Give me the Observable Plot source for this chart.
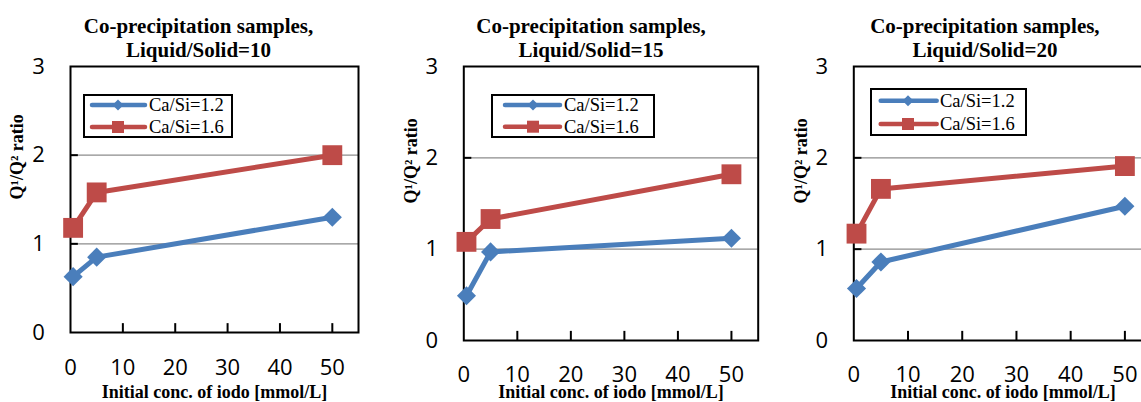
<!DOCTYPE html>
<html><head><meta charset="utf-8">
<script src="https://cdn.jsdelivr.net/npm/d3@7"></script>
<script src="https://cdn.jsdelivr.net/npm/@observablehq/plot@0.6"></script>
<style>
html,body{margin:0;padding:0;background:#fff;overflow:hidden}
#chart{position:relative;width:1141px;height:402px;overflow:hidden;background:#fff}
.panel{position:absolute;top:0}
.legend{position:absolute;background:#fff;border:2px solid #000;box-sizing:border-box}
</style></head><body><div id="chart"></div>
<script>
// ---- data ----
const concentrations = [0.5, 5, 50];           // Initial conc. of iodo [mmol/L]
const seriesNames = ["Ca/Si=1.2", "Ca/Si=1.6"];
const panelTitles = ["Co-precipitation samples,\nLiquid/Solid=10",
                     "Co-precipitation samples,\nLiquid/Solid=15",
                     "Co-precipitation samples,\nLiquid/Solid=20"];
const ls10_ca12 = [0.63, 0.85, 1.30];
const ls10_ca16 = [1.18, 1.58, 2.00];
const ls15_ca12 = [0.49, 0.97, 1.12];
const ls15_ca16 = [1.08, 1.33, 1.82];
const ls20_ca12 = [0.57, 0.86, 1.47];
const ls20_ca16 = [1.17, 1.66, 1.91];
const xTickLabels = [0, 10, 20, 30, 40, 50];
const xInnerTicks = [10, 20, 30, 40, 50];
const yTickLabels = [0, 1, 2, 3];
const yGrid = [1, 2];
const xTitle = "Initial conc. of iodo [mmol/L]";
const yTitle = "Q\u00b9/Q\u00b2 ratio";

const panelSeries = [[ls10_ca12, ls10_ca16], [ls15_ca12, ls15_ca16], [ls20_ca12, ls20_ca16]];

// ---- styles / layout ----
const colors = ["#4A7EBB", "#BE4B48"];
const SERIF = "Liberation Serif";
const SANS = "Open Sans";
const layouts = [
  {left: 0,   width: 380, ml: 70,   mr: 22,  mt: 66, mb: 70, titleDx: -16, tickDy: 35,
   lg: {x: 83, y: 94, w: 150, h: 44, l1: 9, l2: 62, m: 35, t: 66, r1: 11, r2: 33}},
  {left: 380, width: 380, ml: 83.3, mr: 2.3, mt: 66, mb: 62, titleDx: -20, tickDy: 34,
   lg: {x: 490.7, y: 94, w: 164, h: 44, l1: 14, l2: 69, m: 42, t: 73, r1: 11, r2: 32.7}},
  {left: 760, width: 400, ml: 93.3, mr: 8.5, mt: 66, mb: 62, titleDx: -18, tickDy: 34,
   lg: {x: 870, y: 88, w: 157, h: 48, l1: 10.7, l2: 66.7, m: 38, t: 70, r1: 12.7, r2: 36}}
];

const chart = document.getElementById("chart");

panelSeries.forEach((series, p) => {
  const L = layouts[p];
  const rows = series.map((vals, s) => vals.map((v, i) => ({x: concentrations[i], y: v, series: seriesNames[s]})));
  const plot = Plot.plot({
    width: L.width, height: 402,
    marginLeft: L.ml, marginRight: L.mr, marginTop: L.mt, marginBottom: L.mb,
    x: {domain: [0, 55], axis: null},
    y: {domain: [0, 3], axis: null},
    style: {background: "transparent", overflow: "visible"},
    marks: [
      Plot.ruleY(yGrid, {y: d => d, stroke: "#8c8c8c", strokeWidth: 1.4}),
      Plot.ruleY(yGrid, {y: d => d, x1: 0, x2: 1.5, stroke: "#000", strokeWidth: 2}),
      Plot.frame({stroke: "#000", strokeWidth: 2}),
      Plot.ruleX(xInnerTicks, {x: d => d, y1: 0, y2: 0.1, stroke: "#000", strokeWidth: 2}),
      Plot.text(xTickLabels, {x: d => d, text: d => String(d), frameAnchor: "bottom", dy: L.tickDy,
        lineAnchor: "middle", fontSize: 22, fill: "#000"}),
      Plot.text(yTickLabels, {y: d => d, text: d => String(d), frameAnchor: "left", dx: -32,
        textAnchor: "middle", fontSize: 22, fill: "#000"}),
      Plot.line(rows[0], {x: "x", y: "y", stroke: colors[0], strokeWidth: 5}),
      Plot.line(rows[1], {x: "x", y: "y", stroke: colors[1], strokeWidth: 5}),
      Plot.dot(rows[0], {x: "x", y: "y", symbol: "diamond2", r: 8.6, fill: colors[0], stroke: "none"}),
      Plot.dot(rows[1], {x: "x", y: "y", symbol: "square", r: 11.2, fill: colors[1], stroke: "none"}),
      Plot.text([panelTitles[p]], {frameAnchor: "top", dy: -29, dx: L.titleDx, lineAnchor: "middle",
        lineHeight: 1.14, fontSize: 21, fontWeight: "bold", fill: "#000"}),
      Plot.text([xTitle], {frameAnchor: "bottom", dy: 392 - (402 - L.mb), lineAnchor: "middle",
        fontSize: 18, fontWeight: "bold", fill: "#000"}),
      Plot.text([yTitle], {frameAnchor: "left", dx: -53, rotate: -90, lineAnchor: "middle",
        fontSize: 18, fontWeight: "bold", fill: "#000"})
    ]
  });
  plot.classList.add("panel");
  plot.style.left = L.left + "px";
  // fonts: numbers in sans (Calibri-like), words in serif (Times-like)
  d3.select(plot).selectAll("text").each(function () {
    const isNum = /^\d+$/.test(this.textContent.trim());
    this.style.fontFamily = isNum ? SANS : SERIF;
  });
  chart.appendChild(plot);

  // legend
  const g = L.lg;
  const div = document.createElement("div");
  div.className = "legend";
  Object.assign(div.style, {left: g.x + "px", top: g.y + "px", width: g.w + "px", height: g.h + "px"});
  chart.appendChild(div);
  const svg = d3.select(div).append("svg").attr("width", g.w).attr("height", g.h)
    .style("position", "absolute").style("left", "-2px").style("top", "-2px").style("overflow", "visible");
  seriesNames.forEach((name, s) => {
    const cy = s === 0 ? g.r1 : g.r2;
    svg.append("line").attr("x1", g.l1).attr("x2", g.l2).attr("y1", cy).attr("y2", cy)
      .attr("stroke", colors[s]).attr("stroke-width", 4.5).attr("stroke-linecap", "round");
    if (s === 0) {
      svg.append("path").attr("d", `M${g.m},${cy - 5.5}L${g.m + 5.5},${cy}L${g.m},${cy + 5.5}L${g.m - 5.5},${cy}Z`).attr("fill", colors[s]);
    } else {
      svg.append("rect").attr("x", g.m - 6).attr("y", cy - 6).attr("width", 12).attr("height", 12).attr("fill", colors[s]);
    }
    svg.append("text").attr("x", g.t).attr("y", cy).attr("dy", "0.35em")
      .style("font-family", SERIF).style("font-size", "18.5px").text(name);
  });
});
</script></body></html>
